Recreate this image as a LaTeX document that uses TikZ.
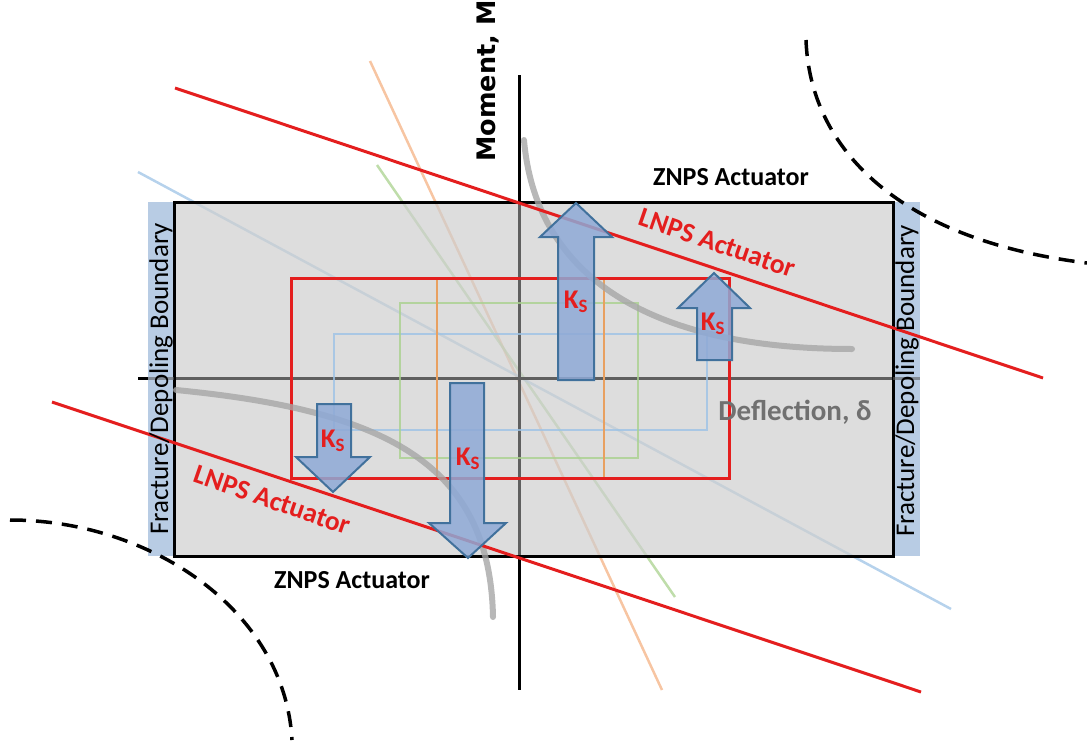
\documentclass[tikz,border=0pt]{standalone}
\usepackage{fontspec}
\setmainfont{Carlito}
\newfontfamily\momentfont{DejaVu Sans}
\definecolor{boxgray}{HTML}{CFCFCF}
\definecolor{stripblue}{HTML}{B8CCE4}
\definecolor{axisgray}{HTML}{5F5F5F}
\definecolor{arrowfill}{HTML}{8EA9D6}
\definecolor{arrowedge}{HTML}{41719C}
\definecolor{lnpsred}{HTML}{E41E1E}
\definecolor{lorange}{HTML}{F4B183}
\definecolor{lgreen}{HTML}{A9D18E}
\definecolor{lblue}{HTML}{9DC3E6}
\definecolor{orangebox}{HTML}{E8A060}
\definecolor{curvegray}{HTML}{A6A6A6}
\definecolor{deflgray}{HTML}{707070}
\tikzset{
  thinline/.style={line width=2.5pt, opacity=0.75},
  axisline/.style={line width=3pt, black},
  inaxis/.style={line width=3pt, axisgray},
  redline/.style={line width=3pt, lnpsred},
  grayarc/.style={line width=6pt, curvegray, opacity=0.8, line cap=round},
  dasharc/.style={line width=3.5pt, black, dash pattern=on 16pt off 10pt},
  blockarrow/.style={fill=arrowfill, fill opacity=0.85, draw=arrowedge, line width=2pt, line join=miter},
  kslabel/.style={text=lnpsred, font=\bfseries\fontsize{27}{29}\selectfont, inner sep=0pt},
  actlabel/.style={font=\bfseries\fontsize{26}{28}\selectfont, inner sep=0pt},
  lnpslabel/.style={font=\bfseries\fontsize{27.5}{29}\selectfont, text=lnpsred, rotate=-19, inner sep=0pt},
  bndlabel/.style={font=\fontsize{27}{29}\selectfont, rotate=90, inner sep=0pt},
}
\begin{document}
\begin{tikzpicture}[x=1pt,y=-1pt]
\useasboundingbox (0,0) rectangle (1087,744);
% faint diagonal lines
\draw[thinline, lorange] (370,61) -- (662,690);
\draw[thinline, lgreen] (377,165) -- (675,597);
\draw[thinline, lblue] (138,172) -- (951,609);
% axes
\coordinate (O) at (519,378);
\coordinate (vtop) at (519,75);
\coordinate (vbot) at (519,690);
\coordinate (hl) at (138,378);
\coordinate (hr) at (920,378);
\draw[axisline] (vtop) -- (vbot);
\draw[axisline] (hl) -- (hr);
% design box
\fill[boxgray, fill opacity=0.7] (174,202) rectangle (893,556);
\draw[inaxis] (519,202) -- (519,556);
\draw[inaxis] (174,378) -- (893,378);
% boundary strips
\fill[stripblue] (148,202) rectangle (174,556);
\fill[stripblue] (893,202) rectangle (920,556);
\draw[line width=3pt, black] (174,202) rectangle (893,556);
\draw[line width=3pt, axisgray, opacity=0.6] (148,378) -- (174,378) (893,378) -- (920,378);
% nested rectangles
\draw[line width=2pt, lblue, opacity=0.8] (334,334) rectangle (707,430);
\draw[line width=2pt, lgreen, opacity=0.8] (400,303) rectangle (638,458);
\draw[line width=2.5pt, orangebox] (437,278) rectangle (604,478);
\draw[line width=3pt, lnpsred] (291,278) rectangle (729,478);
% grey curves
\draw[grayarc] (524,140) .. controls (535,270) and (640,349) .. (852,349);
\draw[grayarc] (176,390) .. controls (380,410) and (490,460) .. (493,617);
% LNPS lines
\draw[redline] (175,88) -- (1043,378);
\draw[redline] (52,402) -- (921,692);
% stiffness arrows
\draw[blockarrow] (558,380) -- (558,237) -- (540,237) -- (576,203) -- (612,237) -- (594,237) -- (594,380) -- cycle;
\draw[blockarrow] (697,360) -- (697,308) -- (678,308) -- (714,273) -- (750,308) -- (732,308) -- (732,360) -- cycle;
\draw[blockarrow] (317,404) -- (317,457) -- (296,457) -- (333,492) -- (370,457) -- (351,457) -- (351,404) -- cycle;
\draw[blockarrow] (450,383) -- (450,523) -- (429,523) -- (468,558) -- (506,523) -- (484,523) -- (484,383) -- cycle;
% dashed arcs
\draw[dasharc] (806,40) .. controls (810,150) and (900,240) .. (1087,263);
\draw[dasharc] (10,520) .. controls (150,520) and (285,610) .. (292,740);
% labels
\node[kslabel] (ks1) at (576,302) {K\textsubscript{S}};
\node[kslabel] (ks2) at (713,324) {K\textsubscript{S}};
\node[kslabel] (ks3) at (333,441) {K\textsubscript{S}};
\node[kslabel] (ks4) at (468,459) {K\textsubscript{S}};
\node[actlabel] (znpstop) at (731,177) {ZNPS Actuator};
\node[actlabel] (znpsbot) at (352,580) {ZNPS Actuator};
\node[lnpslabel] (lnpstop) at (717,243) {LNPS Actuator};
\node[lnpslabel] (lnpsbot) at (272,500) {LNPS Actuator};
\node[font=\bfseries\fontsize{29}{31}\selectfont, text=deflgray, inner sep=0pt] (defl) at (795,412) {Deflection, δ};
\node[font=\momentfont\bfseries\fontsize{25.5}{27}\selectfont, rotate=90, inner sep=0pt] (moment) at (488,81) {Moment, M};
\node[bndlabel] (bndl) at (161,379) {Fracture/Depoling Boundary};
\node[bndlabel] (bndr) at (907,381) {Fracture/Depoling Boundary};
\end{tikzpicture}
\end{document}
